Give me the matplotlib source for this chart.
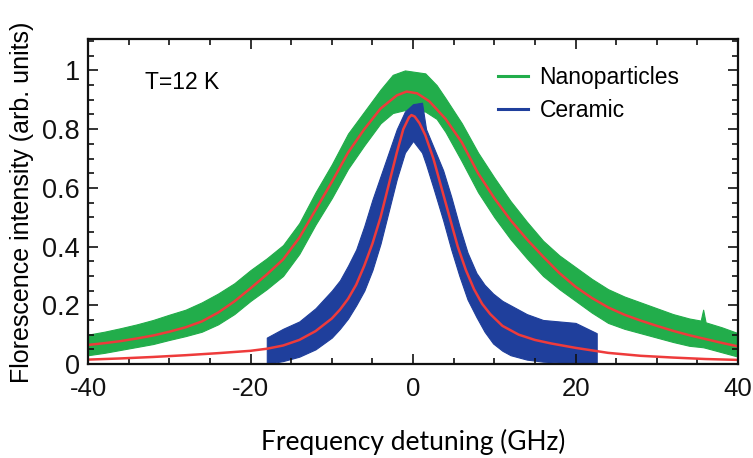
import numpy as np
import matplotlib
matplotlib.use('Agg')
import matplotlib.pyplot as plt
from matplotlib.ticker import MultipleLocator, FuncFormatter

plt.rcParams['font.family'] = ['Liberation Sans', 'DejaVu Sans']

# Nanoparticles data band (upper / lower edge of the noisy trace)
nano_x = [-40, -38, -36, -34, -32, -30, -28, -26, -24, -22, -20, -18, -16, -14, -12, -10, -8, -6,
          -4, -2.5, -1, 1.5, 2.9, 4, 6, 8, 10, 12, 14, 16, 18, 20, 22, 24, 26, 28, 30, 32, 34,
          35.4, 35.7, 36, 38, 40]
nano_hi = [0.10, 0.11, 0.122, 0.135, 0.15, 0.168, 0.185, 0.21, 0.24, 0.275, 0.32, 0.36, 0.405, 0.48,
           0.585, 0.68, 0.785, 0.86, 0.935, 0.985, 1.0, 0.99, 0.95, 0.905, 0.82, 0.72, 0.635, 0.555,
           0.485, 0.42, 0.37, 0.33, 0.29, 0.255, 0.23, 0.21, 0.19, 0.17, 0.155, 0.148, 0.185, 0.142,
           0.125, 0.105]
nano_lo = [0.03, 0.038, 0.048, 0.058, 0.068, 0.082, 0.095, 0.11, 0.135, 0.17, 0.215, 0.255, 0.30, 0.375,
           0.475, 0.565, 0.665, 0.745, 0.82, 0.855, 0.865, 0.86, 0.835, 0.79, 0.69, 0.585, 0.50, 0.425,
           0.36, 0.30, 0.255, 0.215, 0.175, 0.14, 0.12, 0.105, 0.09, 0.075, 0.062, 0.058, 0.057, 0.055,
           0.04, 0.025]

# Nanoparticles fit
nano_fit_x = [-40, -38, -36, -34, -32, -30, -28, -26, -24, -22, -20, -18, -16, -14, -12, -10, -8, -6,
              -4, -2, -0.8, 0.5, 2, 4, 6, 8, 10, 12, 14, 16, 18, 20, 22, 24, 26, 28, 30, 32, 34, 36,
              38, 40]
nano_fit_y = [0.065, 0.071, 0.078, 0.087, 0.097, 0.11, 0.125, 0.145, 0.175, 0.213, 0.258, 0.305, 0.356,
              0.43, 0.525, 0.62, 0.72, 0.80, 0.87, 0.915, 0.928, 0.922, 0.895, 0.835, 0.755, 0.65, 0.565,
              0.49, 0.425, 0.366, 0.31, 0.263, 0.225, 0.193, 0.168, 0.148, 0.13, 0.113, 0.098, 0.085,
              0.072, 0.06]

# Ceramic data band
cer_x = [-18, -17, -16, -14, -12, -10, -9, -8, -7, -6, -5, -4, -3, -2, -1, 0, 1.1, 1.6, 2.5, 3.7,
         4.7, 5.7, 6.7, 7.8, 8.8, 9.85, 11, 12, 14, 16, 18, 20, 22.6]
cer_hi = [0.09, 0.105, 0.12, 0.145, 0.19, 0.25, 0.285, 0.335, 0.39, 0.47, 0.56, 0.64, 0.72, 0.80, 0.86,
          0.885, 0.89, 0.80, 0.74, 0.66, 0.57, 0.47, 0.38, 0.31, 0.27, 0.24, 0.215, 0.20, 0.17, 0.15,
          0.145, 0.14, 0.105]
cer_lo = [0.0, 0.005, 0.01, 0.025, 0.05, 0.09, 0.12, 0.155, 0.20, 0.25, 0.32, 0.41, 0.52, 0.63, 0.72,
          0.76, 0.72, 0.68, 0.60, 0.49, 0.39, 0.30, 0.22, 0.16, 0.11, 0.07, 0.045, 0.03, 0.015, 0.008,
          0.005, 0.004, 0.0]

# Ceramic fit
cer_fit_x = [-40, -36, -32, -28, -24, -20, -18, -16, -14, -12, -10, -9, -8, -7, -6, -5, -4, -3, -2,
             -1.2, -0.5, -0.2, 0.2, 0.8, 1.5, 2.5, 3.5, 4.5, 5.5, 6.5, 7.5, 8.5, 9.5, 11, 13, 15, 17,
             20, 24, 28, 32, 36, 40]
cer_fit_y = [0.015, 0.019, 0.024, 0.03, 0.037, 0.045, 0.052, 0.063, 0.082, 0.112, 0.155, 0.185, 0.222,
             0.27, 0.335, 0.41, 0.50, 0.61, 0.72, 0.80, 0.84, 0.848, 0.843, 0.82, 0.78, 0.70, 0.60, 0.50,
             0.40, 0.32, 0.255, 0.205, 0.17, 0.13, 0.10, 0.082, 0.07, 0.055, 0.038, 0.028, 0.022, 0.017,
             0.014]

green = '#22ad4b'
blue = '#1f3f9c'
red = '#ee3b3b'

fig = plt.figure(figsize=(7.53, 4.58), dpi=100)
ax = fig.add_axes([0.1169, 0.2052, 0.8633, 0.7096])

ax.fill_between(nano_x, nano_lo, nano_hi, color=green, lw=0.8, edgecolor=green)
ax.fill_between(cer_x, cer_lo, cer_hi, color=blue, lw=0.8, edgecolor=blue)
ax.plot(nano_fit_x, nano_fit_y, color=red, lw=1.8)
ax.plot(cer_fit_x, cer_fit_y, color=red, lw=1.8)

# legend handles
ax.plot([], [], color=green, lw=2.2, label='Nanoparticles')
ax.plot([], [], color=blue, lw=2.2, label='Ceramic')
leg = ax.legend(loc='upper left', bbox_to_anchor=(0.631, 0.918), frameon=False, fontsize=16.5,
                handlelength=1.3, handletextpad=0.5, labelspacing=0.43, borderpad=0, borderaxespad=0)

ax.text(0.0877, 0.845, 'T=12 K', transform=ax.transAxes, fontsize=16.5, va='baseline', ha='left')

ax.set_xlim(-40, 40)
ax.set_ylim(0, 1.107)
ax.xaxis.set_major_locator(MultipleLocator(20))
ax.xaxis.set_minor_locator(MultipleLocator(5))
ax.yaxis.set_major_locator(MultipleLocator(0.2))
ax.yaxis.set_minor_locator(MultipleLocator(0.05))
ax.yaxis.set_major_formatter(FuncFormatter(lambda v, p: '%g' % round(v, 2)))
ax.xaxis.set_major_formatter(FuncFormatter(lambda v, p: '%g' % v))

ax.tick_params(which='both', direction='in', top=True, right=True, width=1.2, colors='#111111')
ax.tick_params(which='major', length=7.5)
ax.tick_params(which='minor', length=4.5)
ax.tick_params(axis='x', which='major', labelsize=18.5, pad=9)
ax.tick_params(axis='y', which='major', labelsize=19.5, pad=6)
for s in ax.spines.values():
    s.set_linewidth(1.6)
    s.set_color('#111111')

fig.text(22 / 753, 1 - 202 / 458, 'Florescence intensity (arb. units)', rotation=90,
         ha='center', va='center', fontsize=18)
fig.text(413 / 753, 1 - 442 / 458, 'Frequency detuning (GHz)', ha='center', va='center',
         fontsize=19, family=['Lato', 'DejaVu Sans'])

fig.savefig('out.png', dpi=100)
